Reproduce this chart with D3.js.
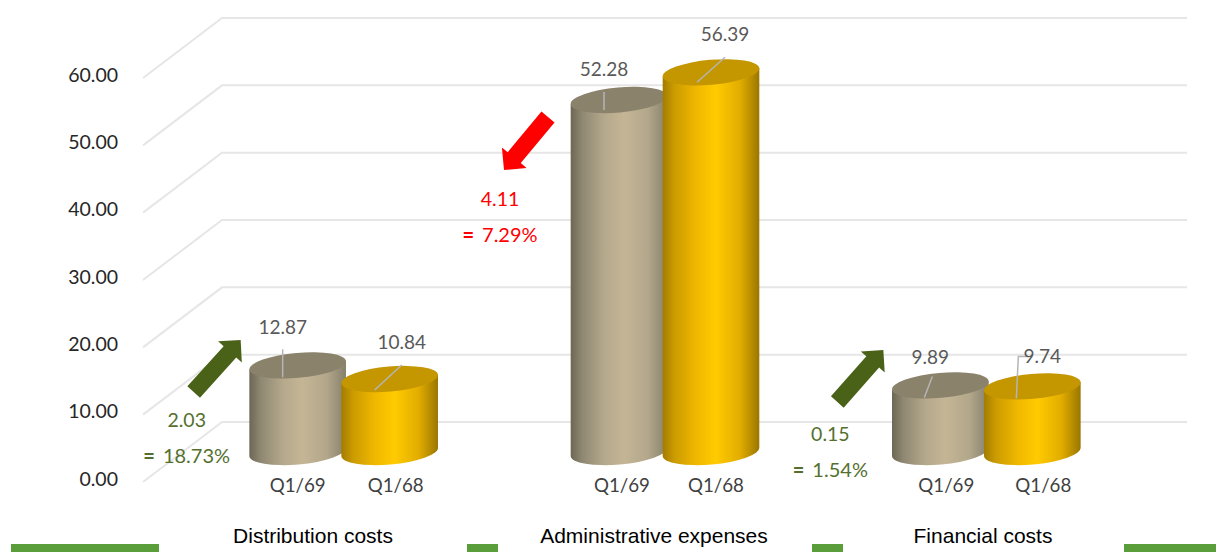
<!DOCTYPE html>
<html>
<head>
<meta charset="utf-8">
<script src="https://cdn.jsdelivr.net/npm/d3@7"></script>
<style>
  html, body { margin: 0; padding: 0; background: #fff; }
  svg { display: block; }
  text { font-family: Lato, sans-serif; }
</style>
</head>
<body>
<div id="chart"></div>
<script>
const categories = ['Distribution costs', 'Administrative expenses', 'Financial costs']
const periods = ['Q1/69', 'Q1/68']
const valuesQ169 = [12.87, 52.28, 9.89]
const valuesQ168 = [10.84, 56.39, 9.74]
const changes = ['2.03', '4.11', '0.15']
const changePct = ['18.73%', '7.29%', '1.54%']
const directions = ['up', 'down', 'up']
const yTicks = [0, 10, 20, 30, 40, 50, 60]

const width = 1216
const height = 552
const BODY = { Q169: 'url(#beige)', Q168: 'url(#gold)' }
const TOP = { Q169: '#8b826c', Q168: '#c49600' }
const GREEN = '#55702e'
const ARROW_GREEN = '#4a6218'

// offsets from the bar centre / bar top
const valueLabelOff = [
  [{ dx: -15, dy: -31 }, { dx: 12, dy: -30 }],
  [{ dx: -15, dy: -24 }, { dx: 14, dy: -31 }],
  [{ dx: -10, dy: -21 }, { dx: 10, dy: -23 }],
]
const leaderOff = [
  [[[-15, -16], [-15, 12]], [[12, -14], [-15, 11]]],
  [[[-15, -8], [-15, 10]], [[14, -15], [-14, 10]]],
  [[[-8, -9], [-16, 12]], [[-5, -30], [-14, -30], [-16, 12]]],
]
const periodOff = [[-46, 52], [-43, 51], [-40, 57]]
const arrowOff = [
  { x1: -150, y1: -60, x2: -103, y2: -112 },
  { x1: -117, y1: -335, x2: -161, y2: -282 },
  { x1: -149, y1: -50, x2: -103, y2: -102 },
]
const noteOff = [
  { x: -157, y: -25 },
  { x: -165, y: -246 },
  { x: -156, y: -11 },
]
const categoryLabelX = [313, 654, 983]
const stripEdges = [[11, 159], [467, 498], [812, 843], [1124, 1216]]

const svg = d3.select('#chart').append('svg').attr('width', width).attr('height', height)

const defs = svg.append('defs')
function addGradient(id, stops) {
  const g = defs.append('linearGradient').attr('id', id).attr('x1', 0).attr('x2', 1).attr('y1', 0).attr('y2', 0)
  stops.forEach(([o, c]) => g.append('stop').attr('offset', o).attr('stop-color', c))
}
addGradient('beige', [[0, '#6c6654'], [0.12, '#8f8872'], [0.35, '#b5a98c'], [0.55, '#c4b595'], [0.8, '#b3a78b'], [1, '#85806c']])
addGradient('gold', [[0, '#a37c00'], [0.12, '#cb9b00'], [0.35, '#f0b800'], [0.55, '#ffcb00'], [0.8, '#e2ad00'], [1, '#9a7600']])

// front plane of the 3D box, back wall sits 60px up and 79px right
const yFront = d3.scaleLinear().domain([0, 60]).range([482, 78])
const depthX = 79
const depthY = 60
const leftX = 143
const rightX = 1187

// bars stand half way into the box
const yBar = v => yFront(v) - depthY / 2

const x0 = d3.scaleBand().domain(categories).range([183, 1147])
const x1 = d3.scaleBand().domain(periods).range([x0.bandwidth() / 2 - 92, x0.bandwidth() / 2 + 92])

// Grid
const grid = svg.append('g').attr('fill', 'none').attr('stroke', '#e6e6e6').attr('stroke-width', 2)
yTicks.forEach(t => {
  const y = yFront(t)
  grid.append('path').attr('d', d3.line()([[leftX, y], [leftX + depthX, y - depthY], [rightX, y - depthY]]))
})

// Axis
const axis = svg.append('g')
  .attr('transform', 'translate(118,-3)')
  .call(d3.axisLeft(yFront).tickValues(yTicks).tickSize(0).tickPadding(0).tickFormat(d3.format('.2f')))
axis.select('.domain').remove()
axis.selectAll('text').attr('font-family', 'Lato, sans-serif').attr('font-size', 19.5).attr('fill', '#262626')

// Bottom green strips
stripEdges.forEach(([a, b]) => {
  svg.append('rect').attr('x', a).attr('y', 544).attr('width', b - a).attr('height', 8).attr('fill', '#5a9e3c')
})

const rx = 48.5
const ry = 12.5
const tilt = 5
const tx = rx * Math.cos(tilt * Math.PI / 180)
const ty = rx * Math.sin(tilt * Math.PI / 180)

function cylinder(g, cx, v, key) {
  const yt = yBar(v)
  const yb = yBar(0)
  const body = `M${cx - tx},${yt + ty} L${cx - tx},${yb + ty} A${rx},${ry} ${-tilt} 0 0 ${cx + tx},${yb - ty} L${cx + tx},${yt - ty} Z`
  g.append('path').attr('d', body).attr('fill', BODY[key])
  g.append('ellipse')
    .attr('cx', cx).attr('cy', yt).attr('rx', rx).attr('ry', ry)
    .attr('transform', `rotate(${-tilt} ${cx} ${yt})`)
    .attr('fill', TOP[key])
}

function arrow(g, a, b, color) {
  const len = Math.hypot(b[0] - a[0], b[1] - a[1])
  const ux = (b[0] - a[0]) / len, uy = (b[1] - a[1]) / len
  const nx = -uy, ny = ux
  const shaft = 8.5, head = 16, headLen = 16
  const mx = b[0] - ux * headLen, my = b[1] - uy * headLen
  const pts = [
    [a[0] + nx * shaft, a[1] + ny * shaft],
    [mx + nx * shaft, my + ny * shaft],
    [mx + nx * head, my + ny * head],
    b,
    [mx - nx * head, my - ny * head],
    [mx - nx * shaft, my - ny * shaft],
    [a[0] - nx * shaft, a[1] - ny * shaft],
  ]
  g.append('polygon').attr('points', pts.join(' ')).attr('fill', color)
}

categories.forEach((cat, i) => {
  const g = svg.append('g').attr('transform', `translate(${x0(cat)},0)`)
  const cx = x0.bandwidth() / 2
  const vals = [valuesQ169[i], valuesQ168[i]]
  const keys = ['Q169', 'Q168']

  periods.forEach((p, j) => {
    const bx = x1(p) + x1.bandwidth() / 2
    cylinder(g, bx, vals[j], keys[j])
  })

  // leader lines and value labels
  periods.forEach((p, j) => {
    const bx = x1(p) + x1.bandwidth() / 2
    const yt = yBar(vals[j])
    g.append('path')
      .attr('d', d3.line()(leaderOff[i][j].map(([dx, dy]) => [bx + dx, yt + dy])))
      .attr('fill', 'none').attr('stroke', '#b5b5b5').attr('stroke-width', 1.5)
    g.append('text')
      .attr('x', bx + valueLabelOff[i][j].dx)
      .attr('y', yt + valueLabelOff[i][j].dy)
      .attr('text-anchor', 'middle')
      .attr('font-size', 19)
      .attr('fill', '#595959')
      .text(vals[j].toFixed(2))
    g.append('text')
      .attr('x', cx + periodOff[i][j])
      .attr('y', 492)
      .attr('text-anchor', 'middle')
      .attr('font-size', 18.7)
      .attr('fill', '#404040')
      .text(p)
  })

  // change arrow and note
  const up = directions[i] === 'up'
  const base = yBar(0)
  const a = arrowOff[i]
  arrow(g, [cx + a.x1, base + a.y1], [cx + a.x2, base + a.y2], up ? ARROW_GREEN : '#ff0000')

  const n = noteOff[i]
  const noteColor = up ? GREEN : '#ff0000'
  g.append('text')
    .attr('x', cx + n.x).attr('y', base + n.y)
    .attr('text-anchor', 'middle').attr('font-size', 19.5).attr('fill', noteColor)
    .text(changes[i])
  const pct = g.append('text')
    .attr('x', cx + n.x).attr('y', base + n.y + 36)
    .attr('text-anchor', 'middle').attr('font-size', 20).attr('fill', noteColor)
  pct.append('tspan').attr('font-weight', 900).text('=')
  pct.append('tspan').attr('dx', 8).text(changePct[i])

  // category label
  svg.append('text')
    .attr('x', categoryLabelX[i]).attr('y', 543)
    .attr('text-anchor', 'middle')
    .style('font-family', '"Liberation Sans", Arial, sans-serif')
    .attr('font-size', 21)
    .attr('fill', '#000')
    .text(cat)
})
</script>
</body>
</html>
